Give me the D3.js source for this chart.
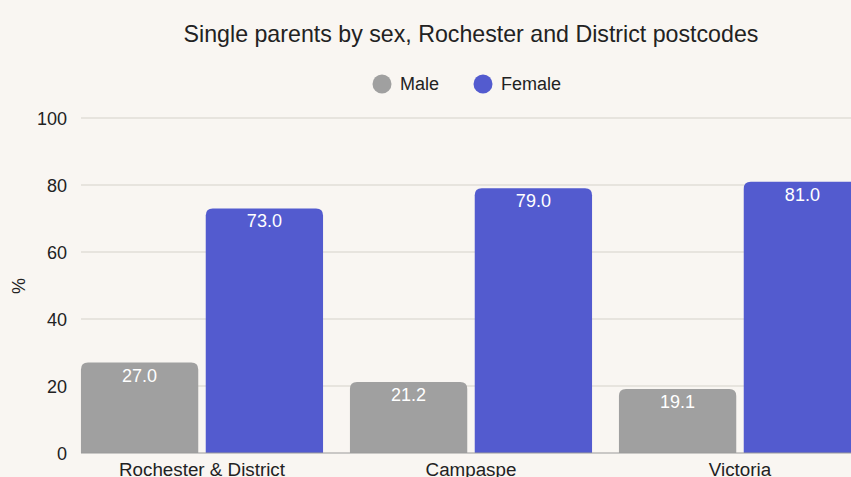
<!DOCTYPE html>
<html><head><meta charset="utf-8">
<script src="https://cdn.jsdelivr.net/npm/d3@7"></script>
<style>
html,body{margin:0;padding:0;background:#f9f6f2;overflow:hidden;}
text{font-family:"Liberation Sans",Arial,sans-serif;}
</style></head>
<body><svg id="c" width="851" height="477"></svg>
<script>
const categories = ["Rochester & District", "Campaspe", "Victoria"];
const seriesNames = ["Male", "Female"];
const maleValues = [27.0, 21.2, 19.1];
const femaleValues = [73.0, 79.0, 81.0];
const yTicks = [0, 20, 40, 60, 80, 100];
const colors = ["#a0a0a0", "#535bcf"];

const W = 851, H = 477;
const svg = d3.select("#c");
svg.append("rect").attr("width", W).attr("height", H).attr("fill", "#f9f6f2");

const y = d3.scaleLinear().domain([0, 100]).range([453, 118]);
const x0 = d3.scaleBand().domain(categories).range([67.5, 874.5]).paddingInner(0.1).paddingOuter(0.05);
const x1 = d3.scaleBand().domain(seriesNames).range([0, x0.bandwidth()]).paddingInner(0.06);

// gridlines
svg.append("g").selectAll("line").data(yTicks.filter(d => d > 0)).join("line")
  .attr("x1", 81).attr("x2", W).attr("y1", d => y(d)).attr("y2", d => y(d))
  .attr("stroke", "#d6d1ca").attr("stroke-width", 1.2);

// y axis labels
const yAxis = d3.axisLeft(y).tickValues(yTicks).tickSize(0).tickPadding(0);
const ga = svg.append("g").attr("transform", "translate(67,0)").call(yAxis);
ga.select(".domain").remove();
ga.selectAll("text").attr("font-size", 18).attr("fill", "#222").attr("dy", "0.35em")
  .style("font-family", '"Liberation Sans",Arial,sans-serif');

svg.append("text").attr("transform", "translate(25,286) rotate(-90)")
  .attr("text-anchor", "middle").attr("font-size", 18).attr("fill", "#222").text("%");

const data = categories.map((c, i) => ({cat: c, vals: [maleValues[i], femaleValues[i]]}));

function topRounded(x, yTop, w, h, r) {
  r = Math.min(r, h, w / 2);
  return `M${x},${yTop + h}V${yTop + r}Q${x},${yTop} ${x + r},${yTop}H${x + w - r}Q${x + w},${yTop} ${x + w},${yTop + r}V${yTop + h}Z`;
}

const groups = svg.append("g").selectAll("g").data(data).join("g")
  .attr("transform", d => `translate(${x0(d.cat)},0)`);

groups.selectAll("path").data(d => d.vals.map((v, j) => ({s: seriesNames[j], v, j}))).join("path")
  .attr("d", d => topRounded(x1(d.s), y(d.v), x1.bandwidth(), y(0) - y(d.v), 7))
  .attr("fill", d => colors[d.j]);

groups.selectAll("text.v").data(d => d.vals.map((v, j) => ({s: seriesNames[j], v, j}))).join("text")
  .attr("class", "v")
  .attr("x", d => x1(d.s) + x1.bandwidth() / 2).attr("y", d => y(d.v) + 19)
  .attr("text-anchor", "middle").attr("font-size", 18).attr("fill", "#ffffff")
  .text(d => d.v.toFixed(1));

// baseline
svg.append("line").attr("x1", 81).attr("x2", W).attr("y1", y(0)).attr("y2", y(0))
  .attr("stroke", "#9a9a9a").attr("stroke-width", 1);

// x axis labels
svg.append("g").selectAll("text").data(categories).join("text")
  .attr("x", d => x0(d) + x0.bandwidth() / 2).attr("y", 476)
  .attr("text-anchor", "middle").attr("font-size", 18.8).attr("fill", "#222").text(d => d);

// title
svg.append("text").attr("x", 471).attr("y", 42).attr("text-anchor", "middle")
  .attr("font-size", 23.2).attr("fill", "#222")
  .text("Single parents by sex, Rochester and District postcodes");

// legend
const legendX = [382, 483];
const lg = svg.append("g").selectAll("g").data(seriesNames).join("g")
  .attr("transform", (d, i) => `translate(${legendX[i]},84)`);
lg.append("circle").attr("r", 9.5).attr("fill", (d, i) => colors[i]);
lg.append("text").attr("x", 18).attr("dy", "0.35em").attr("font-size", 18).attr("fill", "#222").text(d => d);
</script></body></html>
